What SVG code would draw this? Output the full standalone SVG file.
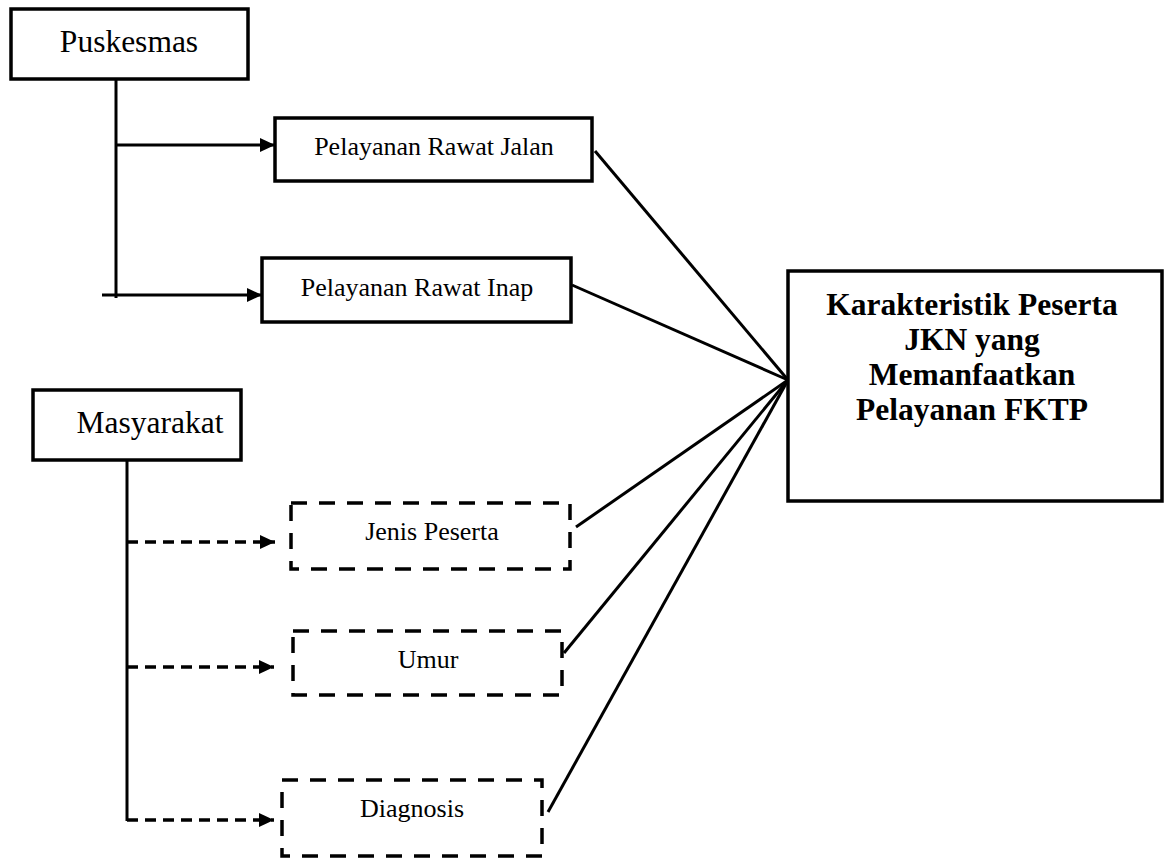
<svg xmlns="http://www.w3.org/2000/svg" width="1171" height="859" viewBox="0 0 1171 859">
<style>
.box{fill:#fff;stroke:#000;stroke-width:3.5}
.dbox{fill:#fff;stroke:#000;stroke-width:3.5;stroke-dasharray:16 12}
.t{font-family:"Liberation Serif","Times New Roman",serif;fill:#000;text-anchor:middle}
.ln{stroke:#000;stroke-width:3;fill:none}
.dl{stroke:#000;stroke-width:3.5;fill:none;stroke-dasharray:11 7}
</style>
<defs>
<marker id="ah" markerWidth="16" markerHeight="14" refX="15" refY="7" orient="auto" markerUnits="userSpaceOnUse">
<path d="M0,0 L15,7 L0,14 Z" fill="#000"/>
</marker>
</defs>
<rect width="1171" height="859" fill="#fff"/>
<g id="connectors">
<line class="ln" x1="116" y1="79" x2="116" y2="298"/>
<line class="ln" x1="116" y1="145" x2="275" y2="145" marker-end="url(#ah)"/>
<line class="ln" x1="102" y1="295" x2="262" y2="295" marker-end="url(#ah)"/>
<line class="ln" x1="127" y1="460" x2="127" y2="821"/>
<line class="dl" x1="127" y1="542" x2="275" y2="542" marker-end="url(#ah)"/>
<line class="dl" x1="127" y1="667" x2="274" y2="667" marker-end="url(#ah)"/>
<line class="dl" x1="127" y1="820" x2="274" y2="820" marker-end="url(#ah)"/>
<line class="ln" x1="595" y1="151" x2="788" y2="380"/>
<line class="ln" x1="572" y1="285" x2="788" y2="380"/>
<line class="ln" x1="576" y1="527" x2="788" y2="380"/>
<line class="ln" x1="564" y1="653" x2="788" y2="380"/>
<line class="ln" x1="548" y1="812" x2="788" y2="380"/>
</g>
<g id="puskesmas">
<rect class="box" x="11" y="9" width="237" height="70"/>
<text class="t" x="129" y="52" font-size="31.5">Puskesmas</text>
</g>
<g id="rawat-jalan">
<rect class="box" x="275" y="118" width="317" height="63"/>
<text class="t" x="434" y="155" font-size="26">Pelayanan Rawat Jalan</text>
</g>
<g id="rawat-inap">
<rect class="box" x="262" y="258" width="309" height="64"/>
<text class="t" x="417" y="296" font-size="26">Pelayanan Rawat Inap</text>
</g>
<g id="karakteristik">
<rect class="box" x="788" y="271" width="374" height="230"/>
<text class="t" x="972" y="315" font-size="31.5" font-weight="bold">Karakteristik Peserta</text>
<text class="t" x="972" y="350" font-size="31.5" font-weight="bold">JKN yang</text>
<text class="t" x="972" y="385" font-size="31.5" font-weight="bold">Memanfaatkan</text>
<text class="t" x="972" y="420" font-size="31.5" font-weight="bold">Pelayanan FKTP</text>
</g>
<g id="masyarakat">
<rect class="box" x="33" y="390" width="208" height="70"/>
<text class="t" x="150" y="433" font-size="31.5">Masyarakat</text>
</g>
<g id="jenis-peserta">
<rect class="dbox" x="291" y="503" width="279" height="66"/>
<text class="t" x="432" y="540" font-size="26">Jenis Peserta</text>
</g>
<g id="umur">
<rect class="dbox" x="293" y="631" width="269" height="64"/>
<text class="t" x="428" y="668" font-size="26">Umur</text>
</g>
<g id="diagnosis">
<rect class="dbox" x="282" y="780" width="260" height="76"/>
<text class="t" x="412" y="817" font-size="26">Diagnosis</text>
</g>
</svg>
